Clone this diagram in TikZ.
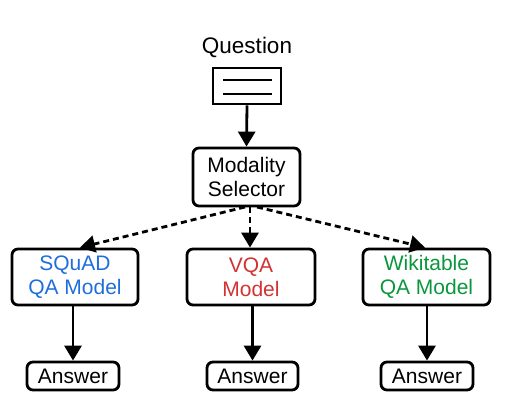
\documentclass[tikz,border=0pt]{standalone}
\usepackage{fontspec}
\setmainfont{Liberation Sans}
\usetikzlibrary{arrows.meta}
\definecolor{sqblue}{RGB}{30,110,220}
\definecolor{vqred}{RGB}{210,50,50}
\definecolor{wkgreen}{RGB}{10,150,60}
\begin{document}
\begin{tikzpicture}[x=1pt,y=-1pt,
  box/.style={draw, line width=2.8pt, rounded corners=6pt, inner sep=0pt, align=center, font=\fontsize{21}{24}\selectfont},
  arr/.style={line width=2.8pt, -{Triangle[width=17pt,length=15pt]}},
  darr/.style={arr, dash pattern=on 6pt off 4pt}]
\useasboundingbox (0,0) rectangle (507,412);
\node[font=\fontsize{22.5}{26}\selectfont] (q) at (247,47) {Question};
\node[draw, line width=2.8pt, minimum width=68pt, minimum height=36pt, inner sep=0pt] (doc) at (247,86) {};
\draw[line width=2.6pt] (223,80) -- (272,80) (223,94) -- (272,94);
\node[box, minimum width=107pt, minimum height=58pt] (ms) at (246.5,177) {Modality\\Selector};
\node[box, minimum width=126pt, minimum height=56pt, text=sqblue] (sq) at (75,277) {SQuAD\\QA Model};
\node[box, minimum width=128pt, minimum height=56pt, text=vqred] (vq) at (251,277) {VQA\\Model};
\node[box, minimum width=127pt, minimum height=56pt, text=wkgreen] (wk) at (426.5,277) {Wikitable\\QA Model};
\node[box, minimum width=92pt, minimum height=28pt] (a1) at (73,376) {Answer};
\node[box, minimum width=91pt, minimum height=28pt] (a2) at (252.5,376) {Answer};
\node[box, minimum width=92pt, minimum height=28pt] (a3) at (427,376) {Answer};
\draw[arr] (doc.south) -- (ms.north);
\coordinate (s1) at (245,207);
\coordinate (s2) at (250,207);
\coordinate (s3) at (257,207);
\draw[darr] (s1) -- (sq.north -| 80,0);
\draw[darr] (s2) -- (vq.north -| 250,0);
\draw[darr] (s3) -- (wk.north -| 425,0);
\draw[arr] (sq.south -| a1.north) -- (a1.north);
\draw[arr] (vq.south -| a2.north) -- (a2.north);
\draw[arr] (wk.south -| a3.north) -- (a3.north);
\end{tikzpicture}
\end{document}
